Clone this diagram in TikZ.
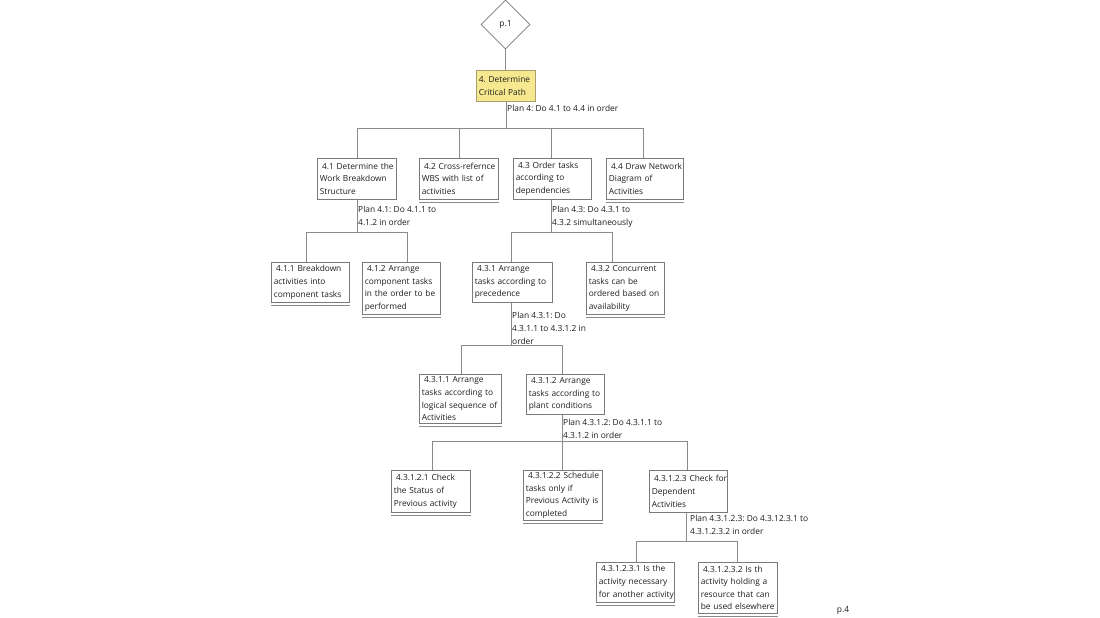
\documentclass[tikz,border=0pt]{standalone}
\usepackage{fontspec}
\setmainfont{Open Sans}
\usetikzlibrary{shapes.geometric}
\definecolor{ln}{HTML}{8A8A8A}
\definecolor{bd}{HTML}{7A7A7A}
\definecolor{tx}{HTML}{1E1E1E}
\definecolor{yel}{HTML}{F6E88E}
\definecolor{yelbd}{HTML}{A8A070}
\newcommand\M[1]{\mbox{#1}}
\newcommand\Sp{\hspace*{2.2pt}}
\frenchspacing
\begin{document}
\begin{tikzpicture}[x=1pt,y=-1pt,
  box/.style={draw=bd, line width=0.6pt, anchor=north west, align=left,
    inner xsep=2.5pt, inner ysep=0pt, font=\fontsize{8.35}{12.6}\selectfont, text=tx},
  planlbl/.style={anchor=north west, align=left, inner sep=0pt,
    font=\fontsize{8.4}{12.8}\selectfont, text=tx},
  conn/.style={draw=ln, line width=0.6pt},
  uline/.style={draw=ln, line width=0.5pt, double=white, double distance=0.8pt}]
\path[use as bounding box, fill=white] (0,0) rectangle (1100,618);

\node[diamond, draw=bd, line width=0.6pt, minimum width=49pt, minimum height=49pt, inner sep=0pt,
  font=\fontsize{8.5}{12}\selectfont, text=tx] (p1) at (505.5,24.5) {p.1};

\node[box, fill=yel, draw=yelbd, minimum height=31pt, text width=54pt] (n4) at (476,70)
  {\M{4. Determine}\\\M{Critical Path}};

\node[box, minimum height=41pt, text width=74pt] (n41) at (317,158)
  {\M{\Sp 4.1 Determine the}\\\M{Work Breakdown}\\\M{Structure}};
\node[box, minimum height=41pt, text width=74pt] (n42) at (419,158)
  {\M{\Sp 4.2 Cross-refernce}\\\M{WBS with list of}\\\M{activities}};
\node[box, minimum height=41pt, text width=73pt] (n43) at (513,158)
  {\M{\Sp 4.3 Order tasks}\\\M{according to}\\\M{dependencies}};
\node[box, minimum height=41pt, text width=72pt] (n44) at (606,158)
  {\M{\Sp 4.4 Draw Network}\\\M{Diagram of}\\\M{Activities}};

\node[box, minimum height=40pt, text width=73pt] (n411) at (271,262)
  {\M{\Sp 4.1.1 Breakdown}\\\M{activities into}\\\M{component tasks}};
\node[box, minimum height=52pt, text width=73pt] (n412) at (362,262)
  {\M{\Sp 4.1.2 Arrange}\\\M{component tasks}\\\M{in the order to be}\\\M{performed}};
\node[box, minimum height=40pt, text width=75pt] (n431) at (472,262)
  {\M{\Sp 4.3.1 Arrange}\\\M{tasks according to}\\\M{precedence}};
\node[box, minimum height=52pt, text width=73pt] (n432) at (586,262)
  {\M{\Sp 4.3.2 Concurrent}\\\M{tasks can be}\\\M{ordered based on}\\\M{availability}};

\node[box, minimum height=49pt, text width=77pt] (n4311) at (419,374)
  {\M{\Sp 4.3.1.1 Arrange}\\\M{tasks according to}\\\M{logical sequence of}\\\M{Activities}};
\node[box, minimum height=40pt, text width=73pt] (n4312) at (526,374)
  {\M{\Sp 4.3.1.2 Arrange}\\\M{tasks according to}\\\M{plant conditions}};

\node[box, minimum height=42pt, text width=74pt] (n43121) at (391,470)
  {\M{\Sp 4.3.1.2.1 Check}\\\M{the Status of}\\\M{Previous activity}};
\node[box, minimum height=50pt, text width=74pt] (n43122) at (523,470)
  {\M{\Sp 4.3.1.2.2 Schedule}\\\M{tasks only if}\\\M{Previous Activity is}\\\M{completed}};
\node[box, minimum height=42pt, text width=73pt] (n43123) at (649,470)
  {\M{\Sp 4.3.1.2.3 Check for}\\\M{Dependent}\\\M{Activities}};

\node[box, minimum height=40pt, text width=73pt] (n431231) at (596,562)
  {\M{\Sp 4.3.1.2.3.1 Is the}\\\M{activity necessary}\\\M{for another activity}};
\node[box, minimum height=51pt, text width=74pt] (n431232) at (698,562)
  {\M{\Sp 4.3.1.2.3.2 Is th}\\\M{activity holding a}\\\M{resource that can}\\\M{be used elsewhere}};

% plan labels
\node[planlbl] (pl4) at (507,104.5) {Plan 4: Do 4.1 to 4.4 in order};
\node[planlbl] (pl41) at (358,206) {Plan 4.1: Do 4.1.1 to\\4.1.2 in order};
\node[planlbl] (pl43) at (552,206) {Plan 4.3: Do 4.3.1 to\\4.3.2 simultaneously};
\node[planlbl] (pl431) at (512,312) {Plan 4.3.1: Do\\4.3.1.1 to 4.3.1.2 in\\order};
\node[planlbl] (pl4312) at (563,419) {Plan 4.3.1.2: Do 4.3.1.1 to\\4.3.1.2 in order};
\node[planlbl] (pl43123) at (690,515) {Plan 4.3.1.2.3: Do 4.3.12.3.1 to\\4.3.1.2.3.2 in order};
\node[font=\fontsize{8.5}{12}\selectfont, text=tx, inner sep=0pt] (p4) at (843,610) {p.4};

% connectors
\draw[conn] (p1.south) -- (p1.south |- n4.north);

\coordinate (b4) at (506,128);
\coordinate (t41) at (357,128); \coordinate (t42) at (459,128);
\coordinate (t43) at (551,128); \coordinate (t44) at (643,128);
\draw[conn] (n4.south -| b4) -- (b4);
\draw[conn] (t41) -- (t44);
\foreach \c in {41,42,43,44} \draw[conn] (t\c) -- (t\c |- n\c.north);

\coordinate (b41) at (357,232);
\coordinate (t411) at (306,232); \coordinate (t412) at (407,232);
\draw[conn] (n41.south -| b41) -- (b41);
\draw[conn] (t411) -- (t412);
\foreach \c in {411,412} \draw[conn] (t\c) -- (t\c |- n\c.north);

\coordinate (b43) at (551,232);
\coordinate (t431) at (511,232); \coordinate (t432) at (612,232);
\draw[conn] (n43.south -| b43) -- (b43);
\draw[conn] (t431) -- (t432);
\foreach \c in {431,432} \draw[conn] (t\c) -- (t\c |- n\c.north);

\coordinate (b431) at (511,345);
\coordinate (t4311) at (461,345); \coordinate (t4312) at (562,345);
\draw[conn] (n431.south -| b431) -- (b431);
\draw[conn] (t4311) -- (t4312);
\foreach \c in {4311,4312} \draw[conn] (t\c) -- (t\c |- n\c.north);

\coordinate (b4312) at (562,441);
\coordinate (t43121) at (432,441); \coordinate (t43122) at (562,441);
\coordinate (t43123) at (687,441);
\draw[conn] (n4312.south -| b4312) -- (b4312);
\draw[conn] (t43121) -- (t43123);
\foreach \c in {43121,43122,43123} \draw[conn] (t\c) -- (t\c |- n\c.north);

\coordinate (b43123) at (686,541);
\coordinate (t431231) at (636,541); \coordinate (t431232) at (737,541);
\draw[conn] (n43123.south -| b43123) -- (b43123);
\draw[conn] (t431231) -- (t431232);
\foreach \c in {431231,431232} \draw[conn] (t\c) -- (t\c |- n\c.north);

% leaf underlines
\foreach \n in {n42,n44,n411,n412,n432,n4311,n43121,n43122,n431231,n431232}
  \draw[uline] ([yshift=-3.5pt]\n.south west) -- ([yshift=-3.5pt]\n.south east);
\end{tikzpicture}
\end{document}
